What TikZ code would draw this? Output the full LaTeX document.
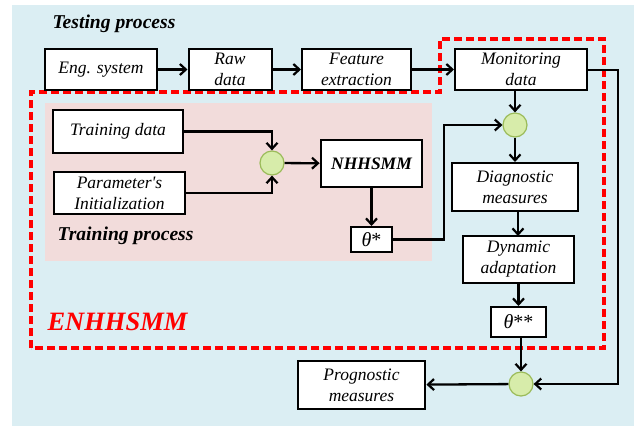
\documentclass[tikz,border=0pt]{standalone}
\usepackage{fontspec}
\setmainfont{Liberation Serif}
\usetikzlibrary{arrows.meta}
\definecolor{bgblue}{RGB}{219,238,243}
\definecolor{bgpink}{RGB}{242,220,219}
\definecolor{ballfill}{RGB}{215,236,170}
\definecolor{ballline}{RGB}{155,187,89}
\begin{document}
\begin{tikzpicture}[x=1pt,y=-1pt,
  box/.style={draw=black,fill=white,line width=2pt,inner sep=0pt,align=center,
    font=\fontsize{17.5}{21}\selectfont\itshape},
  boldbox/.style={box,line width=2.8pt},
  ball/.style={circle,draw=ballline,fill=ballfill,line width=1.2pt,minimum size=24pt,inner sep=0pt},
  conn/.style={line width=2.3pt,-{Straight Barb[length=6pt,width=11pt,line width=2.2pt]}},
  redbox/.style={draw=red,line width=3.2pt,dash pattern=on 8pt off 4pt}
]
\useasboundingbox (0,0) rectangle (634,426);
\fill[white] (0,0) rectangle (634,426);
\fill[bgblue] (12,5) rectangle (634,426);
\fill[bgpink] (45,103) rectangle (432,261);

\node[anchor=west,font=\fontsize{19.6}{22}\selectfont\bfseries\itshape] (ttest) at (49,24) {Testing process};
\node[anchor=west,font=\fontsize{19.6}{22}\selectfont\bfseries\itshape] (ttrain) at (54,236) {Training process};
\node[anchor=west,text=red,font=\fontsize{26.5}{28}\selectfont\bfseries\itshape] (tenh) at (44,322) {ENHHSMM};

\draw[redbox] (31,348) -- (31,92) -- (440,92) -- (440,39) -- (604,39) -- (604,348) -- cycle;

\node[box,minimum width=112pt,minimum height=41pt] (eng) at (101,69.5) {Eng. system};
\node[box,minimum width=83pt,minimum height=41pt] (raw) at (230,69.5) {Raw\\data};
\node[box,minimum width=109pt,minimum height=41pt] (feat) at (356.5,69.5) {Feature\\extraction};
\node[box,minimum width=132pt,minimum height=41pt] (mon) at (521,69.5) {Monitoring\\data};
\node[box,minimum width=130pt,minimum height=43pt] (train) at (118,131.5) {Training data};
\node[box,minimum width=131pt,minimum height=42pt] (param) at (119.5,193) {Parameter\textquotesingle s\\Initialization};
\node[ball] (c1) at (272,163) {};
\node[boldbox,minimum width=101pt,minimum height=47pt,font=\fontsize{17.5}{21}\selectfont\bfseries\itshape] (nhh) at (371.5,163.5) {NHHSMM};
\node[box,minimum width=41pt,minimum height=25pt,font=\fontsize{20}{22}\selectfont] (th1) at (371.5,239.5) {\textit{θ}*};
\node[ball] (c2) at (515,125) {};
\node[box,minimum width=126pt,minimum height=48pt] (diag) at (515,187) {Diagnostic\\measures};
\node[box,minimum width=111pt,minimum height=47pt] (dyn) at (518.5,259.5) {Dynamic\\adaptation};
\node[box,minimum width=55pt,minimum height=30pt,font=\fontsize{20}{22}\selectfont] (th2) at (518.5,322) {\textit{θ}**};
\node[ball] (c3) at (521,384) {};
\node[boldbox,minimum width=127pt,minimum height=48pt] (prog) at (361.5,385) {Prognostic\\measures};

\coordinate (mr) at (618,70);
\coordinate (tr) at (444,239.5);

\draw[conn] (eng) -- (raw);
\draw[conn] (raw) -- (feat);
\draw[conn] (feat) -- (mon);
\draw[conn] (train.east) -| (c1.north);
\draw[conn] (param.east) -| (c1.south);
\draw[conn] (c1) -- (nhh);
\draw[conn] (nhh) -- (th1);
\draw[conn] (th1.east) -- (tr) |- (c2.west);
\draw[conn] (c2 |- mon.south) -- (c2);
\draw[conn] (c2) -- (c2 |- diag.north);
\draw[conn] (diag.south -| 518,0) -- (518,236);
\draw[conn] (dyn) -- (th2);
\draw[conn] (c3 |- th2.south) -- (c3);
\draw[conn] (mon.east |- mr) -- (mr) |- (c3.east);
\draw[conn] (c3) -- (prog);
\end{tikzpicture}
\end{document}
